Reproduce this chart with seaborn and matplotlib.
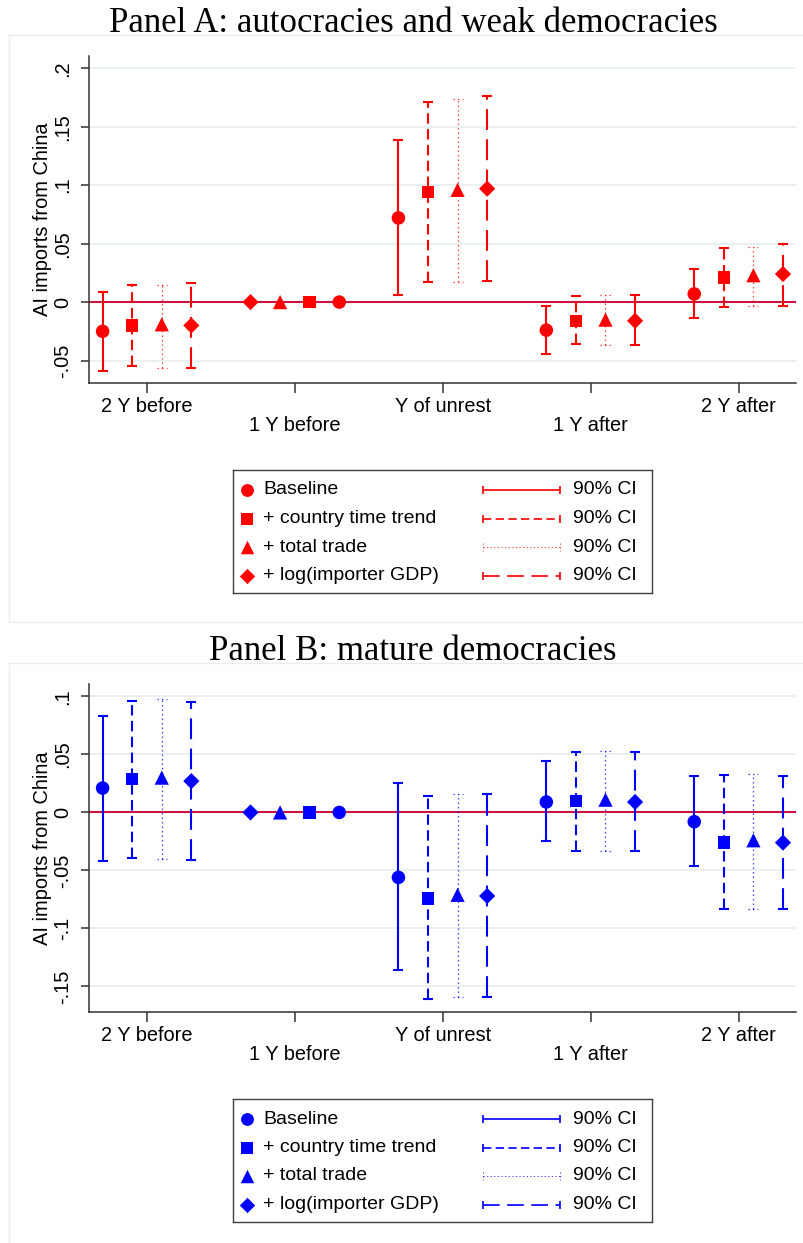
import numpy as np
import pandas as pd
import matplotlib
matplotlib.use("Agg")
import matplotlib.pyplot as plt
import seaborn as sns
from matplotlib.patches import Rectangle

# ---------------- data ----------------
periods = ["2 Y before", "1 Y before", "Y of unrest", "1 Y after", "2 Y after"]
models = ["Baseline", "+ country time trend", "+ total trade", "+ log(importer GDP)"]
nan = np.nan

# Panel A: autocracies and weak democracies
a_baseline_coef = [-0.025, 0.0, 0.072, -0.024, 0.007]
a_baseline_lo = [-0.059, nan, 0.006, -0.044, -0.014]
a_baseline_hi = [0.009, nan, 0.139, -0.003, 0.028]
a_trend_coef = [-0.020, 0.0, 0.094, -0.016, 0.021]
a_trend_lo = [-0.055, nan, 0.017, -0.036, -0.004]
a_trend_hi = [0.015, nan, 0.171, 0.005, 0.046]
a_trade_coef = [-0.019, 0.0, 0.096, -0.015, 0.023]
a_trade_lo = [-0.056, nan, 0.017, -0.037, -0.003]
a_trade_hi = [0.015, nan, 0.174, 0.006, 0.047]
a_gdp_coef = [-0.020, 0.0, 0.097, -0.016, 0.024]
a_gdp_lo = [-0.056, nan, 0.018, -0.037, -0.003]
a_gdp_hi = [0.016, nan, 0.176, 0.006, 0.050]

# Panel B: mature democracies
b_baseline_coef = [0.021, 0.0, -0.056, 0.009, -0.008]
b_baseline_lo = [-0.042, nan, -0.136, -0.025, -0.046]
b_baseline_hi = [0.083, nan, 0.025, 0.044, 0.031]
b_trend_coef = [0.029, 0.0, -0.074, 0.010, -0.026]
b_trend_lo = [-0.039, nan, -0.161, -0.033, -0.083]
b_trend_hi = [0.096, nan, 0.014, 0.052, 0.032]
b_trade_coef = [0.030, 0.0, -0.071, 0.011, -0.024]
b_trade_lo = [-0.040, nan, -0.159, -0.033, -0.083]
b_trade_hi = [0.098, nan, 0.016, 0.053, 0.033]
b_gdp_coef = [0.027, 0.0, -0.072, 0.009, -0.026]
b_gdp_lo = [-0.041, nan, -0.159, -0.033, -0.083]
b_gdp_hi = [0.095, nan, 0.016, 0.052, 0.031]

a_yticks = [-0.05, 0, 0.05, 0.1, 0.15, 0.2]
a_yticklabels = ["-.05", "0", ".05", ".1", ".15", ".2"]
b_yticks = [-0.15, -0.1, -0.05, 0, 0.05, 0.1]
b_yticklabels = ["-.15", "-.1", "-.05", "0", ".05", ".1"]
ylabel = "AI imports from China"
ci_label = "90% CI"
title_a = "Panel A: autocracies and weak democracies"
title_b = "Panel B: mature democracies"

# ---------------- style ----------------
sns.set_theme(style="white")
plt.rcParams['font.family'] = ['Liberation Sans', 'DejaVu Sans']
plt.rcParams.update({"text.color": "black", "axes.labelcolor": "black",
                     "xtick.color": "black", "ytick.color": "black"})

W, H = 804, 1243
fig = plt.figure(figsize=(W / 100, H / 100), dpi=100)


def rect(x0, y0, x1, y1):
    return [x0 / W, 1 - y1 / H, (x1 - x0) / W, (y1 - y0) / H]


offsets = [-0.3, -0.1, 0.1, 0.3]
marker_map = dict(zip(models, ["o", "s", "^", "D"]))
size_map = dict(zip(models, [95, 80, 105, 68]))
line_styles = {
    "Baseline": dict(ls="-", lw=1.5, cap_ls="-", alpha=1.0),
    "+ country time trend": dict(ls=(0, (5.0, 2.6)), lw=1.5, cap_ls="-", alpha=1.0),
    "+ total trade": dict(ls=(0, (1.2, 2.4)), lw=0.9, cap_ls=(0, (1.2, 2.4)), alpha=0.75),
    "+ log(importer GDP)": dict(ls=(0, (10.0, 4.5)), lw=1.5, cap_ls="-", alpha=1.0),
}
capw = 0.034
zero_color = "#cc1442"
grid_color = "#e8eff1"
axis_color = "#333333"


def build_frame(coefs, los, his):
    rows = []
    for mi, m in enumerate(models):
        for pi, p in enumerate(periods):
            base = np.isnan(los[mi][pi])
            off = offsets[::-1][mi] if base else offsets[mi]
            rows.append(dict(model=m, period=p, x=pi + off,
                             coef=coefs[mi][pi], lo=los[mi][pi], hi=his[mi][pi]))
    return pd.DataFrame(rows)


def draw_panel(ax, df, color, yticks, yticklabels, ylim):
    ax.set_axisbelow(True)
    ax.grid(axis="y", color=grid_color, lw=1.3)
    ax.grid(axis="x", visible=False)
    ax.axhline(0, color=zero_color, lw=1.5, zorder=2)
    for m in models:
        st = line_styles[m]
        d = df[(df.model == m) & df.lo.notna()]
        ax.vlines(d.x, d.lo, d.hi, colors=color, linestyles=[st["ls"]],
                  lw=st["lw"], alpha=st["alpha"], zorder=3)
        for col in ["lo", "hi"]:
            ax.hlines(d[col], d.x - capw, d.x + capw, colors=color,
                      linestyles=[st["cap_ls"]], lw=st["lw"], alpha=st["alpha"], zorder=3)
    sns.scatterplot(data=df, x="x", y="coef", style="model", markers=marker_map,
                    size="model", sizes=size_map, color=color, linewidth=0,
                    legend=False, ax=ax, zorder=5)
    ax.set_xlim(-0.392, 4.388)
    ax.set_ylim(*ylim)
    ax.set_xticks(range(len(periods)))
    ax.set_xticklabels([p if i % 2 == 0 else "\n" + p for i, p in enumerate(periods)],
                       linespacing=1.0)
    ax.set_yticks(yticks)
    ax.set_yticklabels(yticklabels)
    ax.set_xlabel("")
    ax.set_ylabel(ylabel, fontsize=14.4)
    ax.yaxis.set_label_coords(-0.052, 0.5)
    ax.tick_params(axis="x", length=7, width=1.1, color=axis_color, pad=3,
                   labelsize=14.4, bottom=True)
    ax.tick_params(axis="y", length=6, width=1.1, color=axis_color, pad=6,
                   labelsize=14.4, left=True, labelrotation=90)
    for lab in ax.get_yticklabels():
        lab.set_va("center")
    for s in ["top", "right"]:
        ax.spines[s].set_visible(False)
    for s in ["left", "bottom"]:
        ax.spines[s].set_color(axis_color)
        ax.spines[s].set_linewidth(1.1)


def draw_legend(lax, color):
    lax.set_xlim(0, 419)
    lax.set_ylim(123, 0)
    lax.set_xticks([])
    lax.set_yticks([])
    for s in lax.spines.values():
        s.set_color("#404040")
        s.set_linewidth(1.0)
    rows = [20, 48.5, 77, 105.5]
    for m, y in zip(models, rows):
        st = line_styles[m]
        lax.scatter([14], [y], marker=marker_map[m], s=size_map[m] * 0.9,
                    color=color, linewidth=0)
        lax.text(30, y, m, va="center", ha="left", fontsize=14)
        lax.hlines([y], 250, 327, colors=color, linestyles=[st["ls"]], lw=st["lw"] * 0.8,
                   alpha=st["alpha"])
        lax.vlines([250, 327], y - 4, y + 4, colors=color, linestyles=[st["cap_ls"]],
                   lw=st["lw"] * 0.8, alpha=st["alpha"])
        lax.text(340, y, ci_label, va="center", ha="left", fontsize=14)


# panel frames
fig.add_artist(Rectangle((9 / W, 1 - 622 / H), 820 / W, (622 - 35) / H, transform=fig.transFigure,
                         fill=False, edgecolor="#ececec", lw=1.0))
fig.add_artist(Rectangle((9 / W, 1 - 1270 / H), 820 / W, (1270 - 663) / H, transform=fig.transFigure,
                         fill=False, edgecolor="#ececec", lw=1.0))

fig.text(413 / W, 1 - 32 / H, title_a, ha="center", va="baseline", fontsize=25,
         family=["Liberation Serif", "DejaVu Serif"])
fig.text(413 / W, 1 - 660 / H, title_b, ha="center", va="baseline", fontsize=25,
         family=["Liberation Serif", "DejaVu Serif"])

df_a = build_frame([a_baseline_coef, a_trend_coef, a_trade_coef, a_gdp_coef],
                   [a_baseline_lo, a_trend_lo, a_trade_lo, a_gdp_lo],
                   [a_baseline_hi, a_trend_hi, a_trade_hi, a_gdp_hi])
df_b = build_frame([b_baseline_coef, b_trend_coef, b_trade_coef, b_gdp_coef],
                   [b_baseline_lo, b_trend_lo, b_trade_lo, b_gdp_lo],
                   [b_baseline_hi, b_trend_hi, b_trade_hi, b_gdp_hi])

ax_a = fig.add_axes(rect(89, 56, 796, 383))
draw_panel(ax_a, df_a, "#ff0000", a_yticks, a_yticklabels, (-0.0692, 0.2105))
ax_b = fig.add_axes(rect(89, 684, 796, 1012))
draw_panel(ax_b, df_b, "#0000ff", b_yticks, b_yticklabels, (-0.172, 0.1107))

draw_legend(fig.add_axes(rect(233, 470, 652, 593)), "#ff0000")
draw_legend(fig.add_axes(rect(233, 1099, 652, 1222)), "#0000ff")

fig.savefig("out.png", dpi=100, facecolor="white")
